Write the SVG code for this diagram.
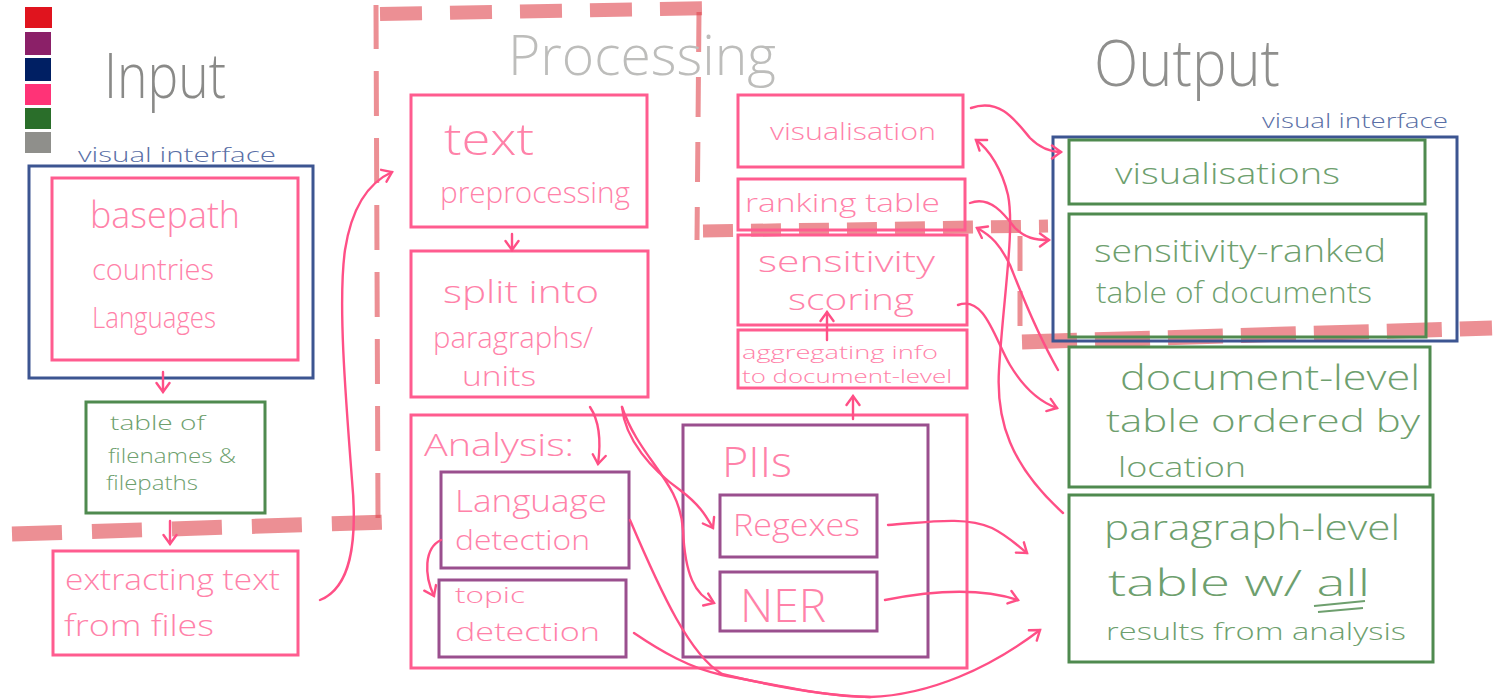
<svg xmlns="http://www.w3.org/2000/svg" width="1500" height="700" viewBox="0 0 1500 700">
<defs>
<style>
.pk{fill:none;stroke:#ff5c8f;stroke-width:3}
.pu{fill:none;stroke:#9a4f8e;stroke-width:3}
.nv{fill:none;stroke:#3c5591;stroke-width:3}
.gr{fill:none;stroke:#4f8a4f;stroke-width:3}
.tp{fill:#ff82a9;font-family:"Open Sans","Liberation Sans",sans-serif;font-weight:300}
.tg{fill:#6e9f6e;font-family:"Open Sans","Liberation Sans",sans-serif;font-weight:300}
.tn{fill:#5a6fa6;font-family:"Open Sans","Liberation Sans",sans-serif;font-weight:300;font-size:20px}
.title{font-family:"Open Sans","Liberation Sans",sans-serif;font-weight:300}
.cn{fill:none;stroke:#ff4f86;stroke-width:2.4;stroke-linecap:round}
.rd{fill:none;stroke:#e0454c;stroke-opacity:0.6;stroke-linecap:butt}
</style>
<marker id="ah" markerWidth="16" markerHeight="16" refX="11" refY="8" orient="auto" markerUnits="userSpaceOnUse">
<path d="M2,1.5 L11,8 L2,14.5" fill="none" stroke="#ff4f86" stroke-width="2.4" stroke-linecap="round"/>
</marker>
</defs>

<!-- legend -->
<g id="legend">
<rect x="25" y="7" width="27" height="21" fill="#e0141e"/>
<rect x="25" y="32" width="26" height="23" fill="#8b2068"/>
<rect x="25" y="58" width="26" height="23" fill="#001f63"/>
<rect x="25" y="84" width="26" height="21" fill="#ff3377"/>
<rect x="25" y="108" width="26" height="21" fill="#2a6e2a"/>
<rect x="25" y="132" width="26" height="21" fill="#8f8f8b"/>
</g>

<!-- red dashed boundary -->
<g id="boundary">
<path class="rd" d="M12,534 L390,522" stroke-width="15" stroke-dasharray="50 30"/>
<path class="rd" d="M378,518 L376,5" stroke-width="5" stroke-dasharray="45 22"/>
<path class="rd" d="M380,14 L722,8" stroke-width="14" stroke-dasharray="42 28"/>
<path class="rd" d="M699,12 L697,240" stroke-width="5" stroke-dasharray="40 25"/>
<path class="rd" d="M703,231 L1048,226" stroke-width="13" stroke-dasharray="30 18"/>
<path class="rd" d="M1020,236 L1020,345" stroke-width="5" stroke-dasharray="35 20"/>
<path class="rd" d="M1022,342 L1492,328" stroke-width="15" stroke-dasharray="55 18"/>
</g>

<!-- titles -->
<g id="titles">
<text class="title" x="104" y="98" font-size="62" fill="#8a8a88" textLength="122" lengthAdjust="spacingAndGlyphs">Input</text>
<text class="title" x="508" y="75" font-size="56" fill="#bdbdbb" textLength="268" lengthAdjust="spacingAndGlyphs">Processing</text>
<text class="title" x="1094" y="86" font-size="64" fill="#8f8f8d" textLength="186" lengthAdjust="spacingAndGlyphs">Output</text>
</g>

<!-- Input -->
<g id="input-ui">
<text class="tn" x="78" y="162" textLength="198" lengthAdjust="spacingAndGlyphs">visual interface</text>
<rect class="nv" x="29" y="166" width="284" height="212"/>
</g>
<g id="params">
<rect class="pk" x="52" y="178" width="246" height="182"/>
<text class="tp" x="90" y="228" font-size="36" textLength="150" lengthAdjust="spacingAndGlyphs">basepath</text>
<text class="tp" x="92" y="280" font-size="30" textLength="122" lengthAdjust="spacingAndGlyphs">countries</text>
<text class="tp" x="92" y="328" font-size="30" textLength="124" lengthAdjust="spacingAndGlyphs">Languages</text>
</g>
<g id="filetable">
<rect class="gr" x="86" y="402" width="179" height="111"/>
<text class="tg" x="110" y="430" font-size="21" textLength="95" lengthAdjust="spacingAndGlyphs">table of</text>
<text class="tg" x="108" y="463" font-size="20" textLength="128" lengthAdjust="spacingAndGlyphs">filenames &amp;</text>
<text class="tg" x="106" y="490" font-size="20" textLength="92" lengthAdjust="spacingAndGlyphs">filepaths</text>
</g>
<g id="extract">
<rect class="pk" x="53" y="551" width="245" height="104"/>
<text class="tp" x="65" y="590" font-size="30" textLength="215" lengthAdjust="spacingAndGlyphs">extracting text</text>
<text class="tp" x="64" y="636" font-size="30" textLength="150" lengthAdjust="spacingAndGlyphs">from files</text>
</g>

<!-- Processing -->
<g id="textprep">
<rect class="pk" x="411" y="95" width="236" height="132"/>
<text class="tp" x="444" y="155" font-size="44" textLength="90" lengthAdjust="spacingAndGlyphs">text</text>
<text class="tp" x="440" y="203" font-size="30" textLength="190" lengthAdjust="spacingAndGlyphs">preprocessing</text>
</g>
<g id="split">
<rect class="pk" x="411" y="251" width="237" height="146"/>
<text class="tp" x="443" y="303" font-size="32" textLength="156" lengthAdjust="spacingAndGlyphs">split into</text>
<text class="tp" x="433" y="348" font-size="30" textLength="160" lengthAdjust="spacingAndGlyphs">paragraphs/</text>
<text class="tp" x="462" y="386" font-size="28" textLength="74" lengthAdjust="spacingAndGlyphs">units</text>
</g>
<g id="visproc">
<rect class="pk" x="738" y="95" width="225" height="72"/>
<text class="tp" x="770" y="140" font-size="24" textLength="166" lengthAdjust="spacingAndGlyphs">visualisation</text>
</g>
<g id="ranking">
<rect class="pk" x="738" y="179" width="227" height="51"/>
<text class="tp" x="745" y="212" font-size="26" textLength="195" lengthAdjust="spacingAndGlyphs">ranking table</text>
</g>
<g id="scoring">
<rect class="pk" x="738" y="235" width="229" height="90"/>
<text class="tp" x="758" y="272" font-size="30" textLength="177" lengthAdjust="spacingAndGlyphs">sensitivity</text>
<text class="tp" x="788" y="310" font-size="30" textLength="126" lengthAdjust="spacingAndGlyphs">scoring</text>
</g>
<g id="aggregate">
<rect class="pk" x="738" y="330" width="229" height="58"/>
<text class="tp" x="742" y="359" font-size="19" textLength="196" lengthAdjust="spacingAndGlyphs">aggregating info</text>
<text class="tp" x="742" y="383" font-size="19" textLength="210" lengthAdjust="spacingAndGlyphs">to document-level</text>
</g>
<g id="analysis">
<rect class="pk" x="411" y="415" width="556" height="253"/>
<text class="tp" x="424" y="456" font-size="32" textLength="150" lengthAdjust="spacingAndGlyphs">Analysis:</text>
</g>
<g id="langdet">
<rect class="pu" x="441" y="472" width="188" height="96"/>
<text class="tp" x="455" y="512" font-size="32" textLength="152" lengthAdjust="spacingAndGlyphs">Language</text>
<text class="tp" x="455" y="550" font-size="28" textLength="135" lengthAdjust="spacingAndGlyphs">detection</text>
</g>
<g id="topicdet">
<rect class="pu" x="439" y="580" width="187" height="77"/>
<text class="tp" x="455" y="603" font-size="22" textLength="70" lengthAdjust="spacingAndGlyphs">topic</text>
<text class="tp" x="455" y="641" font-size="26" textLength="145" lengthAdjust="spacingAndGlyphs">detection</text>
</g>
<g id="piis">
<rect class="pu" x="683" y="425" width="245" height="232"/>
<text class="tp" x="722" y="477" font-size="42" textLength="70" lengthAdjust="spacingAndGlyphs">PIIs</text>
</g>
<g id="regexes">
<rect class="pu" x="720" y="495" width="157" height="62"/>
<text class="tp" x="733" y="536" font-size="32" textLength="127" lengthAdjust="spacingAndGlyphs">Regexes</text>
</g>
<g id="ner">
<rect class="pu" x="720" y="572" width="157" height="59"/>
<text class="tp" x="740" y="622" font-size="46" textLength="86" lengthAdjust="spacingAndGlyphs">NER</text>
</g>

<!-- Output -->
<g id="output-ui">
<text class="tn" x="1262" y="128" textLength="186" lengthAdjust="spacingAndGlyphs">visual interface</text>
<rect class="nv" x="1053" y="137" width="404" height="204"/>
</g>
<g id="visout">
<rect class="gr" x="1069" y="140" width="356" height="64"/>
<text class="tg" x="1115" y="184" font-size="30" textLength="225" lengthAdjust="spacingAndGlyphs">visualisations</text>
</g>
<g id="rankedtable">
<rect class="gr" x="1069" y="214" width="357" height="123"/>
<text class="tg" x="1094" y="262" font-size="32" textLength="292" lengthAdjust="spacingAndGlyphs">sensitivity-ranked</text>
<text class="tg" x="1096" y="303" font-size="30" textLength="276" lengthAdjust="spacingAndGlyphs">table of documents</text>
</g>
<g id="doctable">
<rect class="gr" x="1069" y="347" width="361" height="140"/>
<text class="tg" x="1120" y="390" font-size="34" textLength="300" lengthAdjust="spacingAndGlyphs">document-level</text>
<text class="tg" x="1106" y="432" font-size="32" textLength="314" lengthAdjust="spacingAndGlyphs">table ordered by</text>
<text class="tg" x="1118" y="477" font-size="28" textLength="128" lengthAdjust="spacingAndGlyphs">location</text>
</g>
<g id="paratable">
<rect class="gr" x="1069" y="495" width="364" height="167"/>
<text class="tg" x="1104" y="540" font-size="34" textLength="296" lengthAdjust="spacingAndGlyphs">paragraph-level</text>
<text class="tg" x="1108" y="596" font-size="36" textLength="262" lengthAdjust="spacingAndGlyphs">table w/ all</text>
<path d="M1314,606 L1365,601 M1318,612 L1363,608" fill="none" stroke="#6e9f6e" stroke-width="2.2"/>
<text class="tg" x="1106" y="640" font-size="23" textLength="300" lengthAdjust="spacingAndGlyphs">results from analysis</text>
</g>

<!-- connectors -->
<g id="connectors">
<path class="cn" marker-end="url(#ah)" d="M320,600 C350,588 358,545 352,480 C345,390 338,300 345,250 C352,205 370,182 392,172"/>
<path class="cn" marker-end="url(#ah)" d="M163,372 L163,392"/>
<path class="cn" marker-end="url(#ah)" d="M170,521 L170,544"/>
<path class="cn" marker-end="url(#ah)" d="M512,234 L512,250"/>
<path class="cn" marker-end="url(#ah)" d="M590,407 C600,422 601,442 598,464"/>
<path class="cn" marker-end="url(#ah)" d="M622,407 C625,440 652,470 680,490 C700,505 706,516 713,528"/>
<path class="cn" marker-end="url(#ah)" d="M622,407 C640,460 680,480 683,530 C685,575 695,595 714,603"/>
<path class="cn" marker-end="url(#ah)" d="M441,540 C424,548 424,575 434,596"/>
<path class="cn" d="M630,520 C662,595 690,655 722,674 C780,688 830,696 870,697"/>
<path class="cn" marker-end="url(#ah)" d="M634,633 C662,652 690,668 722,675 C780,686 830,697 870,697 C930,695 990,668 1040,630"/>
<path class="cn" marker-end="url(#ah)" d="M888,525 C930,522 965,516 992,528 C1008,536 1018,546 1027,553"/>
<path class="cn" marker-end="url(#ah)" d="M885,600 C925,592 975,586 1018,600"/>
<path class="cn" marker-end="url(#ah)" d="M827,340 L827,312"/>
<path class="cn" marker-end="url(#ah)" d="M853,419 L853,396"/>
<path class="cn" marker-end="url(#ah)" d="M971,108 C1000,98 1015,120 1030,138 C1040,148 1050,152 1061,152"/>
<path class="cn" marker-end="url(#ah)" d="M1063,513 C1010,465 996,420 999,370 C1003,300 1015,230 1008,195 C1002,170 990,150 976,140"/>
<path class="cn" marker-end="url(#ah)" d="M970,203 C990,195 1005,215 1015,228 C1025,238 1035,240 1049,240"/>
<path class="cn" marker-end="url(#ah)" d="M1058,370 C1035,330 1020,290 1010,265 C1000,245 992,236 977,228"/>
<path class="cn" marker-end="url(#ah)" d="M958,305 C985,295 995,340 1010,365 C1025,390 1040,402 1057,408"/>
</g>
</svg>
